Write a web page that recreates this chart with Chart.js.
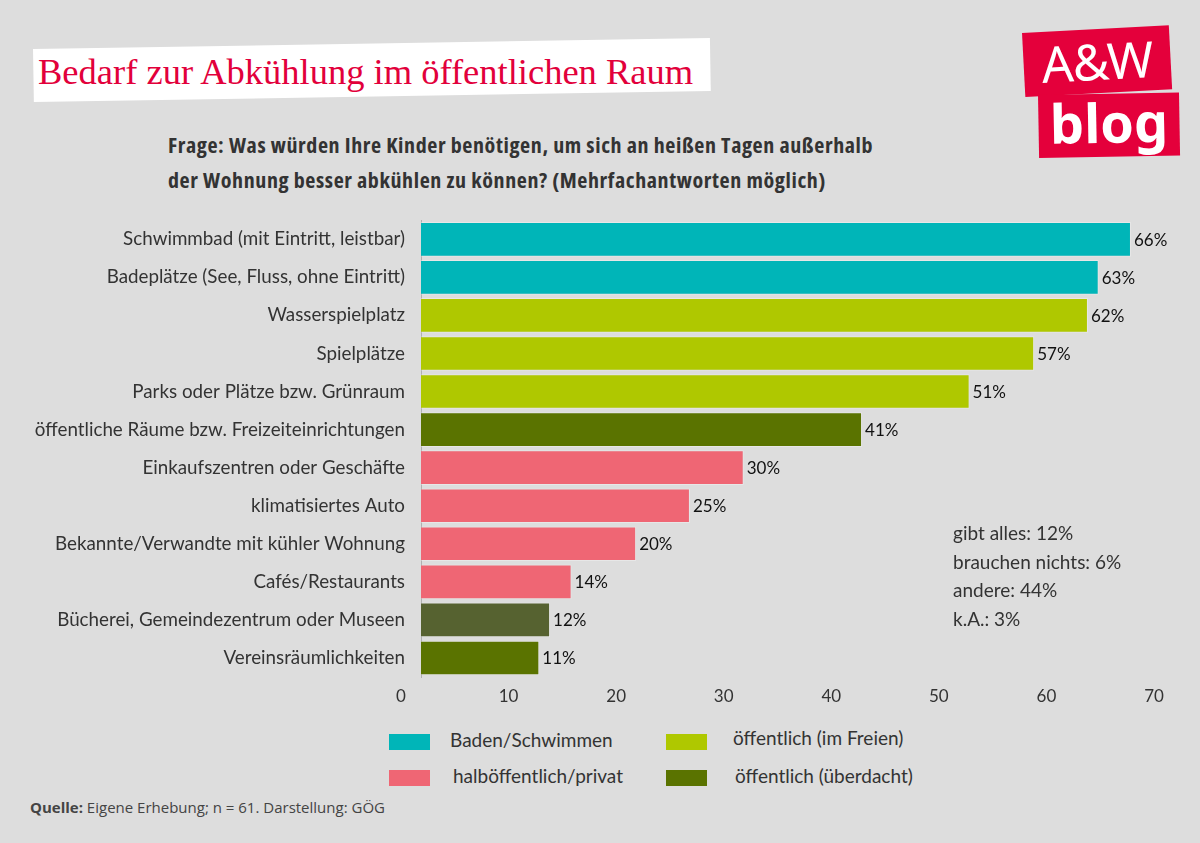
<!DOCTYPE html>
<html lang="de">
<head>
<meta charset="UTF-8">
<title>Bedarf zur Abkühlung im öffentlichen Raum</title>
<script src="https://cdn.jsdelivr.net/npm/chart.js"></script>
<style>
  html, body { margin: 0; padding: 0; }
  body { width: 1200px; height: 843px; background: #dddddd; position: relative; overflow: hidden;
         font-family: "Lato", sans-serif; color: #333; }
  .titlebox { position: absolute; left: 33px; top: 49px; width: 677px; height: 53px; background: #fff;
              transform: rotate(-0.93deg); transform-origin: left top; }
  .title { position: absolute; left: 38px; top: 50px; font-family: "Liberation Serif", serif;
           font-size: 36.5px; color: #e2003b; white-space: nowrap; }
  .logo1 { position: absolute; left: 1022px; top: 33px; width: 147px; height: 64px; background: #e4003b;
           transform: rotate(-3deg); transform-origin: left top; color: #fff; text-align: center;
           font-family: "Noto Sans", sans-serif; font-size: 50px; line-height: 64px; letter-spacing: -1px; }
  .logo2 { position: absolute; left: 1038px; top: 95px; width: 141px; height: 63px; background: #e4003b;
           transform: rotate(-1deg); transform-origin: left top; color: #fff; text-align: center;
           font-family: "Noto Sans", sans-serif; font-weight: bold; font-size: 54px; line-height: 56px; }
  .question { position: absolute; left: 168px; top: 127px; font-family: "Open Sans", sans-serif;
              font-weight: bold; font-size: 22px; font-stretch: 87%; letter-spacing: 0.6px; line-height: 35px;
              color: #333; white-space: nowrap; }
  #wrap { position: absolute; left: 0; top: 193px; width: 1200px; height: 517px; }
  .note { position: absolute; left: 953px; top: 519px; font-size: 19px; line-height: 28.7px; color: #333; }
  .legend { position: absolute; font-size: 19px; color: #333; white-space: nowrap; }
  .sw { position: absolute; width: 41px; height: 16px; }
  .source { position: absolute; left: 30px; top: 797px; font-family: "Open Sans", sans-serif; font-size: 15px; color: #444; }
</style>
</head>
<body>
<div class="titlebox"></div>
<div class="title">Bedarf zur Abkühlung im öffentlichen Raum</div>
<div class="logo1">A&amp;W</div>
<div class="logo2">blog</div>
<div class="question">Frage: Was würden Ihre Kinder benötigen, um sich an heißen Tagen außerhalb<br>der Wohnung besser abkühlen zu können? (Mehrfachantworten möglich)</div>

<div id="wrap"><canvas id="chart"></canvas></div>

<div class="note">gibt alles: 12%<br>brauchen nichts: 6%<br>andere: 44%<br>k.A.: 3%</div>

<div class="sw" style="left:389px;top:734px;background:#00b5b8"></div>
<div class="legend" style="left:450px;top:728px">Baden/Schwimmen</div>
<div class="sw" style="left:666px;top:734px;background:#afc800"></div>
<div class="legend" style="left:733px;top:726px">öffentlich (im Freien)</div>
<div class="sw" style="left:389px;top:770px;background:#ef6674"></div>
<div class="legend" style="left:453px;top:764px">halböffentlich/privat</div>
<div class="sw" style="left:666px;top:770px;background:#5a7300"></div>
<div class="legend" style="left:735px;top:764px">öffentlich (überdacht)</div>

<div class="source"><b>Quelle:</b> Eigene Erhebung; n = 61. Darstellung: GÖG</div>

<script>
const categories = [
  'Schwimmbad (mit Eintritt, leistbar)',
  'Badeplätze (See, Fluss, ohne Eintritt)',
  'Wasserspielplatz',
  'Spielplätze',
  'Parks oder Plätze bzw. Grünraum',
  'öffentliche Räume bzw. Freizeiteinrichtungen',
  'Einkaufszentren oder Geschäfte',
  'klimatisiertes Auto',
  'Bekannte/Verwandte mit kühler Wohnung',
  'Cafés/Restaurants',
  'Bücherei, Gemeindezentrum oder Museen',
  'Vereinsräumlichkeiten'
];
const values = [66, 63, 62, 57, 51, 41, 30, 25, 20, 14, 12, 11];
const groups = ['baden', 'baden', 'frei', 'frei', 'frei', 'ueberdacht', 'privat', 'privat', 'privat', 'privat', 'buecherei', 'ueberdacht'];
const xTicks = [0, 10, 20, 30, 40, 50, 60, 70];

const groupColors = {
  baden: '#00b5b8',
  frei: '#afc800',
  privat: '#ef6674',
  ueberdacht: '#5a7300',
  buecherei: '#566230'
};

// Prozentwerte rechts neben den Balken
const valueLabels = {
  id: 'valueLabels',
  afterDatasetsDraw(chart) {
    const ctx = chart.ctx;
    const meta = chart.getDatasetMeta(0);
    ctx.save();
    ctx.font = '17px "Lato", sans-serif';
    ctx.fillStyle = '#111';
    ctx.textBaseline = 'middle';
    ctx.textAlign = 'left';
    meta.data.forEach((bar, i) => {
      ctx.fillText(values[i] + '%', bar.x + 3, bar.y + 1);
    });
    ctx.restore();
  }
};

new Chart(document.getElementById('chart'), {
  type: 'bar',
  data: {
    labels: categories,
    datasets: [{
      data: values,
      backgroundColor: groups.map(g => groupColors[g]),
      borderColor: 'rgba(255,255,255,0.3)',
      borderWidth: 1,
      barPercentage: 0.91,
      categoryPercentage: 1
    }]
  },
  options: {
    indexAxis: 'y',
    responsive: true,
    maintainAspectRatio: false,
    animation: false,
    layout: { padding: { top: 3, right: 26, bottom: 0, left: 0 } },
    plugins: { legend: { display: false }, tooltip: { enabled: false } },
    scales: {
      x: {
        min: 0, max: 70,
        afterBuildTicks: s => { s.ticks = xTicks.map(v => ({ value: v })); },
        afterFit: s => { s.height = 33; },
        grid: { display: false, drawTicks: false },
        border: { display: false },
        ticks: { color: '#333', padding: 9, labelOffset: -20, font: { family: 'Lato', size: 17 } }
      },
      y: {
        afterFit: s => { s.width = 421; },
        grid: { display: false, drawTicks: false },
        border: { display: true, color: '#b0b0b0', width: 1 },
        ticks: { color: '#333', padding: 16, font: { family: 'Lato', size: 18.8 } }
      }
    }
  },
  plugins: [valueLabels]
});
</script>
</body>
</html>
